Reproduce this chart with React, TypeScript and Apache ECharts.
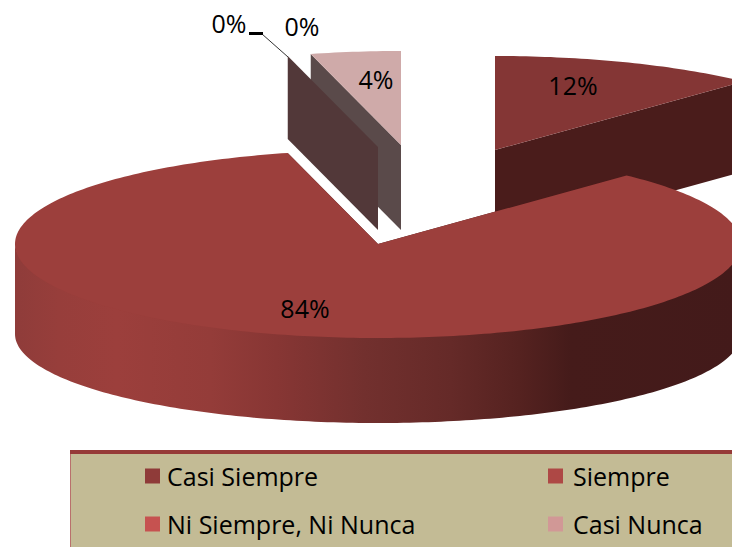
import React, { useEffect, useRef } from "react";
import * as echarts from "echarts";

const categories = ["Casi Siempre", "Siempre", "Ni Siempre, Ni Nunca", "Casi Nunca", "Nunca"];
const values = [12, 84, 0, 4, 0];
const swatchColors = ["#8f3b39", "#ae4845", "#c65250", "#d19896", "#e3c4c3"];
const topColors = ["#843635", "#9c3f3c", "#523839", "#cfaaa9", "#5a4848"];
const cutColors = ["#4a1c1b", "#4a1c1b", "#523839", "#5a4a4a", "#5a4a4a"];
// slice apex on the page (exploded pie) and its extrusion depth
const apexX = [495, 378, 378, 401, 401];
const apexY = [150, 244, 147, 145, 145];
const depths = [90, 90, 83, 85, 85];
const drawOrder = [0, 3, 4, 2, 1];
const labelX = [573, 305, 229, 376, 302];
const labelY = [85, 308, 23, 79, 26];
const legendLeft = [145, 548, 145, 548];
const legendGap = [2, 5, 2, 5];
const legendCenterY = [476, 476, 524, 524];

const RX = 363;
const RY = 94;
const BOTTOM_RY = 89;
const START_ANGLE = 90;
const FONT = '"Open Sans"';
const total = values.reduce((a, b) => a + b, 0);

function rim(ax: number, ay: number, deg: number, drop = 0, ry = RY): number[] {
  const r = (deg * Math.PI) / 180;
  return [ax + RX * Math.cos(r), ay - ry * Math.sin(r) + drop];
}

function arc(ax: number, ay: number, from: number, to: number, drop = 0, ry = RY): number[][] {
  const n = Math.max(1, Math.ceil(Math.abs(to - from)));
  const pts: number[][] = [];
  for (let i = 0; i <= n; i++) pts.push(rim(ax, ay, from + ((to - from) * i) / n, drop, ry));
  return pts;
}

function sliceAngles(index: number): [number, number] {
  let before = 0;
  for (let i = 0; i < index; i++) before += values[i];
  const a0 = START_ANGLE - (before / total) * 360;
  return [a0, a0 - (values[index] / total) * 360];
}

function renderSlice(index: number) {
  return () => {
    const ax = apexX[index];
    const ay = apexY[index];
    const depth = depths[index];
    const [a0, a1] = sliceAngles(index);
    const children: any[] = [];
    const cut = (deg: number) => {
      const p = rim(ax, ay, deg);
      children.push({
        type: "polygon",
        silent: true,
        shape: { points: [[ax, ay], p, [p[0], p[1] + depth], [ax, ay + depth]] },
        style: { fill: cutColors[index] },
      });
    };
    cut(a0);
    if (a1 !== a0) cut(a1);
    // outer wall is visible only on the front half of the ellipse
    const from = Math.min(a0, 0);
    const to = Math.max(a1, -180);
    if (from > to) {
      const top = arc(ax, ay - 2, from, to);
      const bottom = arc(ax, ay, to, from, depth, BOTTOM_RY);
      children.push({
        type: "polygon",
        silent: true,
        shape: { points: top.concat(bottom) },
        style: {
          fill: new echarts.graphic.LinearGradient(0, 0, 1, 0, [
            { offset: 0, color: "#8f3c3a" },
            { offset: 0.06, color: "#973e3b" },
            { offset: 0.14, color: "#9c3f3c" },
            { offset: 0.27, color: "#943c39" },
            { offset: 0.36, color: "#873634" },
            { offset: 0.483, color: "#72302e" },
            { offset: 0.6, color: "#652a28" },
            { offset: 0.695, color: "#552220" },
            { offset: 0.765, color: "#451b1a" },
            { offset: 1, color: "#431a1a" },
          ]),
        },
      });
    }
    if (a1 !== a0) {
      children.push({
        type: "polygon",
        silent: true,
        shape: { points: [[ax, ay] as number[]].concat(arc(ax, ay, a0, a1)) },
        style: { fill: topColors[index] },
      });
    }
    children.push({
      type: "text",
      silent: true,
      z2: 100,
      style: {
        x: labelX[index],
        y: labelY[index],
        text: `${Math.round((values[index] / total) * 100)}%`,
        align: "center",
        verticalAlign: "middle",
        font: `25px ${FONT}`,
        fill: "#000000",
      },
    });
    return { type: "group", children };
  };
}

export default function App() {
  const ref = useRef<HTMLDivElement>(null);
  useEffect(() => {
    document.body.style.margin = "0";
    const chart = echarts.init(ref.current!, null, { renderer: "svg" });
    chart.setOption({
      animation: false,
      backgroundColor: "#ffffff",
      legend: categories.slice(0, 4).map((name, i) => ({
        data: [name],
        left: legendLeft[i],
        top: legendCenterY[i] - 15,
        padding: 0,
        icon: "rect",
        itemWidth: 15,
        itemHeight: 15,
        selectedMode: false,
        textStyle: { fontFamily: FONT, fontSize: 25, color: "#000000", lineHeight: 30, padding: [0, 0, 0, legendGap[i]] },
      })),
      graphic: [
        { type: "rect", z: 0, silent: true, shape: { x: 70, y: 450, width: 662, height: 97 }, style: { fill: "#c3bb95" } },
        { type: "rect", z: 0, silent: true, shape: { x: 70, y: 450, width: 1, height: 97 }, style: { fill: "#b9706c" } },
        { type: "rect", z: 0, silent: true, shape: { x: 70, y: 450, width: 662, height: 4 }, style: { fill: "#963a38" } },
        { type: "line", z: 50, silent: true, shape: { x1: 262, y1: 34, x2: 288, y2: 57 }, style: { stroke: "#333333", lineWidth: 1 } },
        { type: "rect", z: 50, silent: true, shape: { x: 249, y: 32, width: 14, height: 3 }, style: { fill: "#000000" } },
      ],
      series: drawOrder.map((index, order) => ({
        type: "custom",
        name: categories[index],
        coordinateSystem: "none",
        z: 2 + order,
        silent: true,
        itemStyle: { color: swatchColors[index] },
        data: [[values[index]]],
        renderItem: renderSlice(index),
      })),
    });
    return () => chart.dispose();
  }, []);
  return <div ref={ref} style={{ width: 732, height: 547 }} />;
}
